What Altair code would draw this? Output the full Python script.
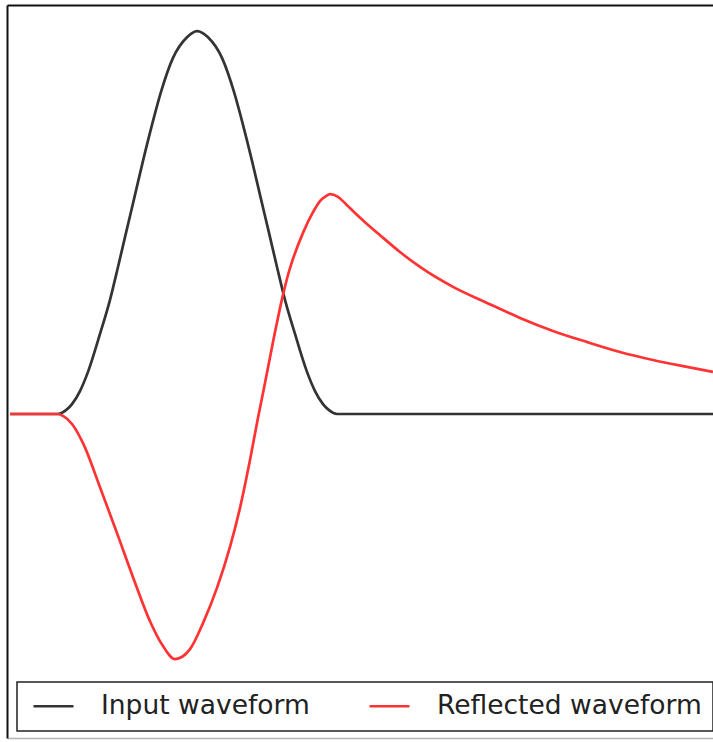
import altair as alt
import pandas as pd

# Time axis in ns, amplitude normalised to the input pulse peak
input_t = [0.0, 4.8, 5.6, 6.2, 7.0, 7.8, 9.0, 10.0, 10.8, 11.6, 12.4, 13.3, 14.2, 15.1,
           16.3, 17.7, 18.7, 19.8, 21.2, 22.4, 23.3, 24.2, 25.1, 25.9, 26.7, 27.5,
           28.5, 29.7, 30.5, 31.3, 31.9, 32.7, 70.3]
input_a = [0.0, 0.0, 0.010, 0.026, 0.060, 0.110, 0.209, 0.298, 0.384, 0.473, 0.561,
           0.661, 0.755, 0.841, 0.930, 0.984, 1.0, 0.984, 0.930, 0.841, 0.755, 0.661,
           0.561, 0.473, 0.384, 0.298, 0.209, 0.110, 0.060, 0.026, 0.010, 0.0, 0.0]

refl_t = [0.0, 4.8, 5.3, 6.2, 7.3, 9.0, 10.7, 12.3, 14.0, 15.3, 16.5, 18.0, 19.3, 20.7,
          22.0, 23.0, 24.0, 24.8, 25.5, 26.3, 27.3, 27.8, 28.3, 29.3, 30.3, 31.0, 31.6,
          32.0, 32.8, 33.6, 34.5, 35.5, 37.0, 39.0, 41.0, 44.3, 47.7, 51.0, 54.3, 57.7,
          61.0, 64.3, 67.7, 70.3]
refl_a = [0.0, 0.0, -0.005, -0.026, -0.076, -0.191, -0.311, -0.426, -0.541, -0.606,
          -0.640, -0.614, -0.546, -0.454, -0.347, -0.245, -0.120, -0.010, 0.081, 0.188,
          0.311, 0.363, 0.405, 0.473, 0.527, 0.556, 0.569, 0.574, 0.567, 0.548, 0.525,
          0.501, 0.467, 0.423, 0.384, 0.332, 0.290, 0.251, 0.217, 0.188, 0.162, 0.141,
          0.123, 0.110]

series_names = ["Input waveform", "Reflected waveform"]
series_colors = ["#333333", "#ff3333"]

x_domain = [-0.3, 70.3]
y_domain = [-0.846, 1.068]

df = pd.concat([
    pd.DataFrame({"t": input_t, "a": input_a, "series": series_names[0], "order": range(len(input_t))}),
    pd.DataFrame({"t": refl_t, "a": refl_a, "series": series_names[1], "order": range(len(refl_t))}),
])

frame_axis = dict(domain=True, domainColor="#111111", domainWidth=2, ticks=False,
                  labels=False, grid=False, title=None)
bottom_axis = dict(frame_axis, domainColor="#b4b4b4", domainWidth=1.5)

x_scale = alt.Scale(domain=x_domain, nice=False, zero=False)
y_scale = alt.Scale(domain=y_domain, nice=False, zero=False)

lines = alt.Chart(df).mark_line(strokeWidth=2.7, interpolate="monotone", clip=True).encode(
    x=alt.X("t:Q", scale=x_scale, axis=alt.Axis(orient="bottom", **bottom_axis)),
    y=alt.Y("a:Q", scale=y_scale, axis=alt.Axis(orient="left", **frame_axis)),
    color=alt.Color(
        "series:N",
        scale=alt.Scale(domain=series_names, range=series_colors),
        legend=alt.Legend(
            orient="none", legendX=10, legendY=677, direction="horizontal",
            title=None, symbolType="stroke", symbolSize=1600, symbolStrokeWidth=2.7,
            labelFontSize=26.5, labelFont="DejaVu Sans", labelColor="#222222",
            labelLimit=0, labelOffset=26, columnPadding=54, padding=11,
            symbolOffset=4, clipHeight=26,
            strokeColor="#222222", fillColor="#ffffff",
        ),
    ),
    order="order:Q",
)

# Invisible copy that carries the top edge of the frame
top_edge = alt.Chart(df).mark_line(opacity=0).encode(
    x=alt.X("t:Q", scale=x_scale, axis=alt.Axis(orient="top", **frame_axis)),
    y=alt.Y("a:Q", scale=y_scale, axis=alt.Axis(orient="left", **frame_axis)),
    detail="series:N",
)

chart = alt.layer(lines, top_edge).resolve_axis(x="independent").properties(
    width=706, height=733,
    padding={"left": 7, "top": 5, "right": 0, "bottom": 4},
    autosize=alt.AutoSizeParams(type="none"),
    background="#ffffff",
).configure_view(stroke=None).configure_legend(strokeWidth=1.5, cornerRadius=0)

chart.save("out.html", embed_options={"renderer": "svg", "actions": False})
